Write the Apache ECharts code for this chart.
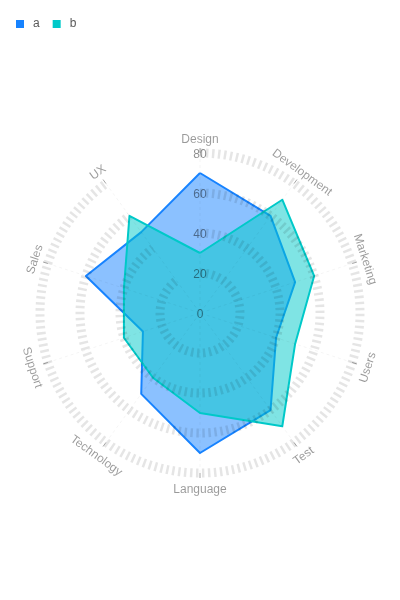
<!DOCTYPE html>
<html><head><meta charset="utf-8">
<script src="https://cdn.jsdelivr.net/npm/echarts@6/dist/echarts.min.js"></script>
<style>html,body{margin:0;padding:0;background:#fff}#c{width:400px;height:600px}</style>
</head><body><div id="c"></div>
<script>
const categories = ['Design','Development','Marketing','Users','Test','Language','Technology','Support','Sales','UX'];
const seriesA = [70,60,50,40,60,70,50,30,60,50];
const seriesB = [30,70,60,50,70,50,40,40,40,60];
const seriesNames = ['a','b'];
const tickValues = [0,20,40,60,80];
const axisMax = 80;

const COLORS = ['#1783FF', '#00C9C9'];
const FONT = '"Liberation Sans", Arial, sans-serif';
const CENTER = [200, 313];
const RADIUS = 160;

// ECharts radar runs counter-clockwise; reorder so the drawing runs clockwise
const order = [0].concat(categories.map((_, i) => i).slice(1).reverse());

const chart = echarts.init(document.getElementById('c'), null, {renderer: 'canvas'});

function nameLabel(params, api) {
  const i = params.dataIndex;
  const p0 = api.coord([0, i]);
  const p = api.coord([api.value(0), i]);
  const dx = p[0] - p0[0], dy = p[1] - p0[1];
  const len = Math.hypot(dx, dy) || 1;
  const x = p[0] + dx / len * 15, y = p[1] + dy / len * 15;
  let theta = Math.atan2(dx, -dy) * 180 / Math.PI;
  if (theta < 0) theta += 360;
  let rot = theta;
  if (theta > 90.5 && theta < 269.5) rot = theta - 180;
  else if (theta >= 269.5) rot = theta - 360;
  return {
    type: 'text', x: x, y: y, rotation: -rot * Math.PI / 180, silent: true,
    style: {
      text: categories[i], x: 0, y: 1.5, align: 'center', verticalAlign: 'middle',
      textAlign: 'center', textVerticalAlign: 'middle',
      fill: 'rgba(0,0,0,0.4)', fontSize: 12, fontFamily: FONT
    }
  };
}

function tickLabel(params, api) {
  const p = api.coord([api.value(0), 0]);
  return {
    type: 'text', x: p[0], y: p[1], silent: true,
    style: {
      text: String(tickValues[params.dataIndex]), x: 0, y: 1.5,
      align: 'center', verticalAlign: 'middle', textAlign: 'center', textVerticalAlign: 'middle',
      fill: 'rgba(0,0,0,0.45)', fontSize: 12, fontFamily: FONT
    }
  };
}

const values = [seriesA, seriesB];

const option = {
  animation: false,
  legend: {
    data: seriesNames, left: 16, top: 18, padding: 0, itemWidth: 8, itemHeight: 8, itemGap: 13,
    icon: 'rect', itemStyle: {borderWidth: 0},
    textStyle: {color: '#595959', fontSize: 12, fontFamily: FONT, padding: [0, 0, 0, 4]}
  },
  radar: {
    center: CENTER, radius: RADIUS, startAngle: 90, shape: 'circle', splitNumber: 4,
    indicator: order.map(i => ({name: categories[i], min: 0, max: axisMax})),
    axisName: {show: false}, axisLine: {show: false}, splitLine: {show: false},
    splitArea: {show: false}, axisTick: {show: false}, axisLabel: {show: false}
  },
  polar: {center: CENTER, radius: RADIUS},
  angleAxis: {
    type: 'category', data: categories, boundaryGap: false, startAngle: 90, clockwise: true, z: 10,
    axisLine: {show: false},
    axisTick: {show: true, length: 5, lineStyle: {color: 'rgba(0,0,0,0.35)', width: 1}},
    axisLabel: {show: false},
    splitLine: {show: true, lineStyle: {color: 'rgba(0,0,0,0.045)', width: 1, type: [3, 3]}}
  },
  radiusAxis: {
    type: 'value', min: 0, max: axisMax, interval: 20, z: 10,
    axisLine: {show: false}, axisTick: {show: false}, axisLabel: {show: false},
    splitLine: {show: true, lineStyle: {color: 'rgba(0,0,0,0.1)', width: 9, type: [2.5, 3.5]}}
  },
  series: [
    {
      type: 'radar', z: 2, symbol: 'none',
      data: seriesNames.map((n, k) => ({
        name: n,
        value: order.map(i => values[k][i]),
        itemStyle: {color: COLORS[k]},
        lineStyle: {color: COLORS[k], width: 2},
        areaStyle: {color: COLORS[k], opacity: 0.5}
      }))
    },
    {
      type: 'custom', coordinateSystem: 'polar', z: 20, silent: true,
      data: categories.map((c, i) => [axisMax, i]),
      renderItem: nameLabel
    },
    {
      type: 'custom', coordinateSystem: 'polar', z: 20, silent: true,
      data: tickValues.map(v => [v, 0]),
      renderItem: tickLabel
    }
  ]
};
chart.setOption(option);
</script>
</body></html>
